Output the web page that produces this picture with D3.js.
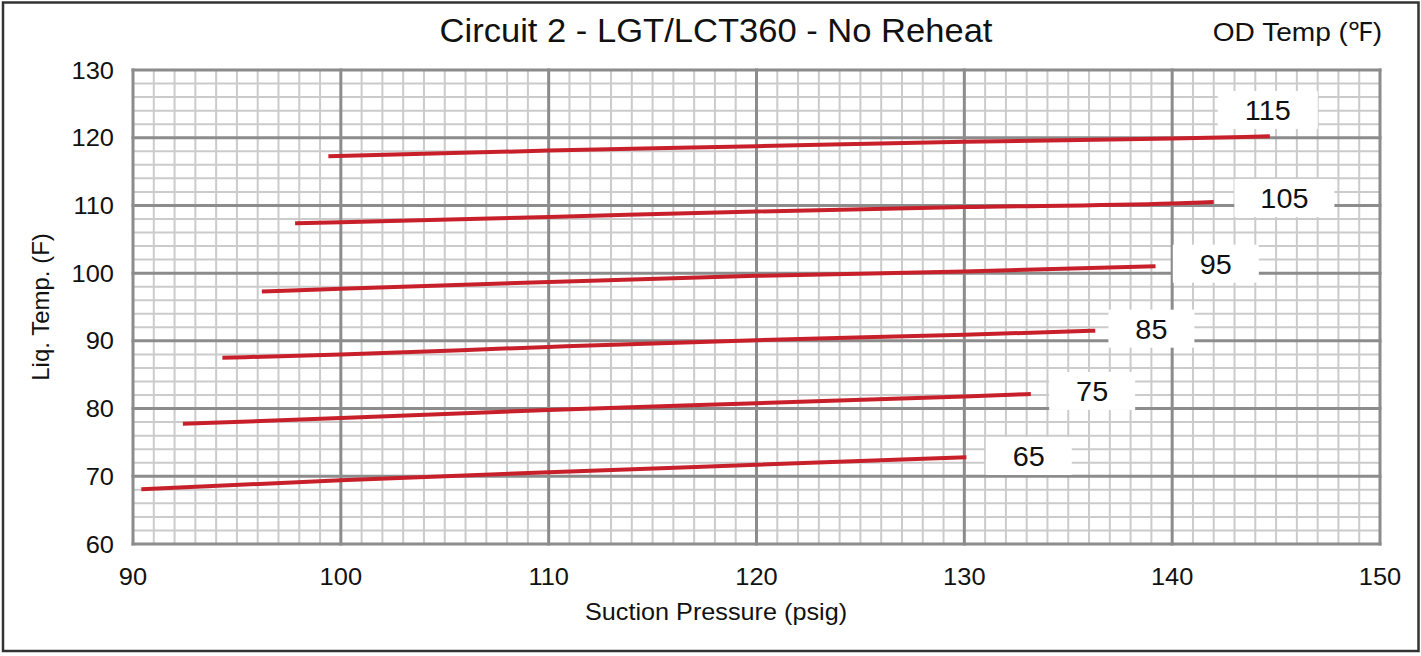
<!DOCTYPE html>
<meta charset="utf-8">
<style>
body { margin: 0; background: #fff; }
svg { display: block; font-family: "Liberation Sans", Arial, sans-serif; }
.minor line { stroke: #cbcbcb; stroke-width: 2px; }
.major line { stroke: #8c8c8c; stroke-width: 3px; }
.curve { fill: none; stroke: #c8202b; stroke-width: 4px; stroke-linecap: butt; }
text { fill: #111; }
</style>
<body>
<svg width="1421" height="656"></svg>
</body>
<script src="https://d3js.org/d3.v7.min.js"></script>
<script>

// OD temperatures (one curve each)
var odTemps = [65, 75, 85, 95, 105, 115];

// suction pressure (psig) points
var pressure65  = [90.4, 100, 110, 120, 130.1];
var liquid65    = [68.1, 69.4, 70.6, 71.7, 72.8];
var pressure75  = [92.4, 100, 110, 120, 130, 133.2];
var liquid75    = [77.75, 78.6, 79.8, 80.8, 81.8, 82.15];
var pressure85  = [94.3, 100, 110, 120, 130, 136.3];
var liquid85    = [87.5, 88.0, 89.1, 90.1, 90.9, 91.5];
var pressure95  = [96.2, 100, 110, 120, 130, 139.2];
var liquid95    = [97.3, 97.7, 98.7, 99.6, 100.25, 101.0];
var pressure105 = [97.8, 100, 110, 120, 130, 140, 142];
var liquid105   = [107.35, 107.5, 108.3, 109.1, 109.75, 110.3, 110.5];
var pressure115 = [99.4, 110, 120, 130, 140, 144.7];
var liquid115   = [117.25, 118.1, 118.75, 119.4, 119.9, 120.2];

// where each OD temp label sits (data units)
var labelPressure = [133.1, 136.15, 139.0, 142.1, 145.4, 144.6];
var labelLiquid   = [73.0, 82.6, 91.8, 101.4, 111.1, 124.1];

var xTicks = [90, 100, 110, 120, 130, 140, 150];
var yTicks = [60, 70, 80, 90, 100, 110, 120, 130];

var pressures = [pressure65, pressure75, pressure85, pressure95, pressure105, pressure115];
var liquids = [liquid65, liquid75, liquid85, liquid95, liquid105, liquid115];

var svg = d3.select("svg");

// text is a bit wide in the original, stretch it horizontally
function addText(g, tx, ty, str, size, anchor, sx) {
  return g.append("text")
    .attr("transform", "translate(" + tx + "," + ty + ") scale(" + (sx || 1.06) + ",1)")
    .attr("text-anchor", anchor || "middle")
    .attr("font-size", size)
    .text(str);
}

// outer frame
svg.append("rect")
  .attr("x", 3).attr("y", 2.5)
  .attr("width", 1415.5).attr("height", 648.5)
  .attr("fill", "#fff")
  .attr("stroke", "#333")
  .attr("stroke-width", 2.5);

var x = d3.scaleLinear().domain([90, 150]).range([133, 1380]);
var y = d3.scaleLinear().domain([60, 130]).range([544, 70]);

var plot = svg.append("g");

// minor grid
var minor = plot.append("g").attr("class", "minor");
minor.selectAll(".vx")
  .data(d3.range(91, 150, 1).filter(function(d) { return d % 10 != 0; }))
  .enter().append("line")
    .attr("x1", function(d) { return x(d); }).attr("x2", function(d) { return x(d); })
    .attr("y1", y(130)).attr("y2", y(60));
minor.selectAll(".hy")
  .data(d3.range(62, 130, 2).filter(function(d) { return d % 10 != 0; }))
  .enter().append("line")
    .attr("y1", function(d) { return y(d); }).attr("y2", function(d) { return y(d); })
    .attr("x1", x(90)).attr("x2", x(150));

// major grid
var major = plot.append("g").attr("class", "major");
major.selectAll(".vx")
  .data(xTicks)
  .enter().append("line")
    .attr("x1", function(d) { return x(d); }).attr("x2", function(d) { return x(d); })
    .attr("y1", y(130) - 1.5).attr("y2", y(60) + 1.5);
major.selectAll(".hy")
  .data(yTicks)
  .enter().append("line")
    .attr("y1", function(d) { return y(d); }).attr("y2", function(d) { return y(d); })
    .attr("x1", x(90) - 1.5).attr("x2", x(150) + 1.5);

// curves
var line = d3.line()
  .x(function(d) { return x(d[0]); })
  .y(function(d) { return y(d[1]); })
  .curve(d3.curveMonotoneX);

odTemps.forEach(function(t, i) {
  var pts = pressures[i].map(function(p, j) { return [p, liquids[i][j]]; });
  plot.append("path")
    .attr("class", "curve")
    .attr("d", line(pts));
});

// OD temp labels with white boxes
var labels = plot.append("g");
odTemps.forEach(function(t, i) {
  var cx = x(labelPressure[i]), cy = y(labelLiquid[i]);
  var w = t >= 100 ? 100 : 86;
  labels.append("rect")
    .attr("x", cx - w / 2).attr("y", cy - 19)
    .attr("width", w).attr("height", 38)
    .attr("fill", "#fff");
  addText(labels, cx, cy + 10, t, 28, "middle", 1.03);
});

// tick labels
var ticks = svg.append("g");
xTicks.forEach(function(d) {
  addText(ticks, x(d), 585, d, 24, "middle");
});
yTicks.forEach(function(d) {
  addText(ticks, 114, y(d) + 8.5, d, 24, "end");
});

// titles
addText(svg, 716, 42, "Circuit 2 - LGT/LCT360 - No Reheat", 32.6, "middle");
addText(svg, 1382, 41, "OD Temp (℉)", 26.5, "end");
addText(svg, 716, 620, "Suction Pressure (psig)", 23.8, "middle");

svg.append("text")
  .attr("transform", "translate(49,307) rotate(-90)")
  .attr("text-anchor", "middle")
  .attr("font-size", 24)
  .text("Liq. Temp. (F)");

</script>
